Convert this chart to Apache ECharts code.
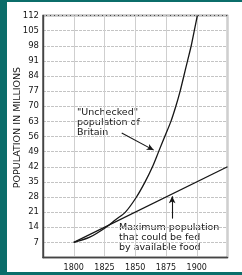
<!DOCTYPE html>
<html style="height: 100%">
<head>
    <meta charset="utf-8">
    <script type="text/javascript" src="https://cdn.jsdelivr.net/npm/echarts@6/dist/echarts.min.js"></script>
</head>
<body style="height: 100%; margin: 0; background: #0b6d6a">
<div id="container" style="width: 242px; height: 275px"></div>
<script type="text/javascript">
    // values
    var years = [1800, 1813, 1826, 1834, 1842, 1851, 1858, 1864, 1869, 1874, 1879, 1883, 1886.5, 1889.5, 1892.5, 1895.5, 1898, 1900.5];
    var unchecked = [7, 9.4, 13.9, 17.5, 21, 28, 35, 42, 49, 56, 63, 70, 77, 84, 91, 98, 105, 112];
    var foodYears = [1800, 1925];
    var food = [7, 42];
    var xTicks = [1800, 1825, 1850, 1875, 1900];
    // arrows (data coords)
    var arrowUnchecked = [[1839, 57.6], [1865, 49.7]];
    var arrowFood = [[1880, 18], [1880, 28.3]];

    var font = 'DejaVu Sans';
    var ink = '#161616';

    function pairs(xs, ys) {
        return xs.map(function (x, i) { return [x, ys[i]]; });
    }

    var dom = document.getElementById('container');
    var myChart = echarts.init(dom);
    var option = {
        animation: false,
        backgroundColor: '#0b6d6a',
        graphic: [
            {type: 'rect', shape: {x: 7, y: 2, width: 235, height: 270}, style: {fill: '#fff'}, z: -10},
            {type: 'text', left: 77, top: 108, style: {
                text: '"Unchecked"\npopulation of\nBritain',
                font: '9.5px ' + font, fill: ink, lineHeight: 9.8}},
            {type: 'text', left: 119, top: 223, style: {
                text: 'Maximum population\nthat could be fed\nby available food',
                font: '9.5px ' + font, fill: ink, lineHeight: 9.6}}
        ],
        grid: {
            left: 43, right: 14.5, top: 15.5, bottom: 17.5,
            show: true, borderColor: '#444', borderWidth: 1.4
        },
        xAxis: {
            type: 'value', min: 1775, max: 1925, interval: 25,
            axisLine: {lineStyle: {color: '#444', width: 1.4}},
            axisTick: {show: false},
            axisLabel: {
                fontFamily: font, fontSize: 8, color: ink, margin: 6,
                formatter: function (v) { return xTicks.indexOf(v) >= 0 ? String(v) : ''; }
            },
            splitLine: {lineStyle: {color: '#cfcfcf', width: 1}}
        },
        yAxis: {
            type: 'value', min: 0, max: 112, interval: 7,
            name: 'POPULATION IN MILLIONS',
            nameLocation: 'middle', nameGap: 20, nameMoveOverlap: false,
            nameTextStyle: {fontFamily: font, fontSize: 9.5, color: ink, padding: [0, 0, 0, 18]},
            axisLine: {lineStyle: {color: '#444', width: 1.4}},
            axisTick: {show: false},
            axisLabel: {
                fontFamily: font, fontSize: 8.5, color: ink, margin: 4,
                formatter: function (v) { return v === 0 ? '' : String(v); }
            },
            splitLine: {lineStyle: {color: '#c4c4c4', width: 1, type: [3, 1]}}
        },
        series: [
            {
                type: 'line', name: 'unchecked', data: pairs(years, unchecked),
                smooth: 0.3, showSymbol: false, clip: true,
                lineStyle: {color: ink, width: 1.3},
                markLine: {
                    silent: true, symbol: ['none', 'arrow'], symbolSize: [5, 7],
                    label: {show: false},
                    lineStyle: {color: ink, width: 1.1, type: 'solid'},
                    data: [[{coord: arrowUnchecked[0]}, {coord: arrowUnchecked[1]}]]
                }
            },
            {
                type: 'line', name: 'food', data: pairs(foodYears, food),
                showSymbol: false,
                lineStyle: {color: ink, width: 1.3},
                markLine: {
                    silent: true, symbol: ['none', 'arrow'], symbolSize: [5, 7],
                    label: {show: false},
                    lineStyle: {color: ink, width: 1.1, type: 'solid'},
                    data: [[{coord: arrowFood[0]}, {coord: arrowFood[1]}]]
                }
            }
        ]
    };
    myChart.setOption(option);
</script>
</body>
</html>
